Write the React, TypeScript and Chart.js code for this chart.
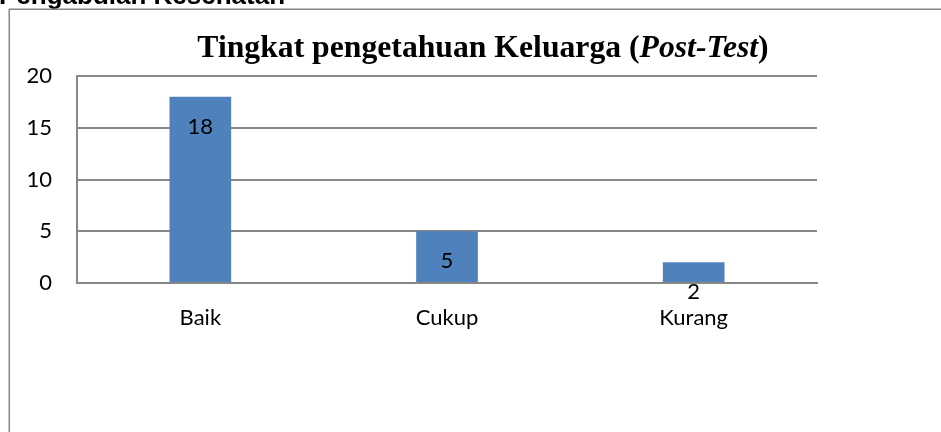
import React, { useEffect, useRef } from "react";
import { Chart, registerables } from "chart.js";

Chart.register(...registerables);

const categories = ["Baik", "Cukup", "Kurang"];
const values = [18, 5, 2];
const yTicks = [0, 5, 10, 15, 20];
const headerText = "Pengabdian Kesehatan";
const titleParts = [
  { text: "Tingkat pengetahuan Keluarga (", italic: false },
  { text: "Post-Test", italic: true },
  { text: ")", italic: false },
];

const FONT = "Lato";
const GRID = "#878787";

const decorPlugin = {
  id: "decor",
  afterDraw(chart: any) {
    const ctx = chart.ctx as CanvasRenderingContext2D;
    ctx.save();
    // header (cut at top)
    ctx.fillStyle = "#000";
    ctx.font = "bold 26px 'Liberation Sans', Arial, sans-serif";
    ctx.textBaseline = "alphabetic";
    ctx.textAlign = "left";
    ctx.fillText(headerText, -1, 4);
    // frame
    ctx.strokeStyle = GRID;
    ctx.lineWidth = 1.5;
    ctx.beginPath();
    ctx.moveTo(9.25, chart.height + 2);
    ctx.lineTo(9.25, 9.25);
    ctx.lineTo(chart.width + 2, 9.25);
    ctx.stroke();
    // title
    const size = 31.7;
    const fonts = titleParts.map(
      (p) => `${p.italic ? "italic " : ""}bold ${size}px 'Liberation Serif', 'Times New Roman', serif`
    );
    let total = 0;
    const widths = titleParts.map((p, i) => {
      ctx.font = fonts[i];
      const w = ctx.measureText(p.text).width;
      total += w;
      return w;
    });
    let x = 483 - total / 2;
    titleParts.forEach((p, i) => {
      ctx.font = fonts[i];
      ctx.fillText(p.text, x, 57);
      x += widths[i];
    });
    // data labels
    ctx.font = `22px ${FONT}`;
    ctx.textAlign = "center";
    ctx.textBaseline = "middle";
    const meta = chart.getDatasetMeta(0);
    meta.data.forEach((bar: any, i: number) => {
      ctx.fillText(String(values[i]), bar.x, bar.y + 30);
    });
    ctx.restore();
  },
};

export default function App() {
  const ref = useRef<HTMLCanvasElement>(null);
  useEffect(() => {
    if (!ref.current) return;
    const chart = new Chart(ref.current, {
      type: "bar",
      data: {
        labels: categories,
        datasets: [
          {
            data: values,
            backgroundColor: "#4F81BD",
            categoryPercentage: 1,
            barPercentage: 0.25,
          },
        ],
      },
      options: {
        animation: false,
        responsive: false,
        layout: { padding: { left: 0, top: 76, right: 124, bottom: 0 } },
        plugins: { legend: { display: false }, tooltip: { enabled: false }, title: { display: false } },
        scales: {
          x: {
            grid: { display: false, drawTicks: false },
            border: { display: true, color: GRID, width: 2 },
            ticks: { color: "#000", font: { family: FONT, size: 22 }, padding: 22, maxRotation: 0 },
            afterFit: (s: any) => {
              s.height = 432 - 283;
            },
          },
          y: {
            min: 0,
            max: 20,
            afterBuildTicks: (s: any) => {
              s.ticks = yTicks.map((v) => ({ value: v }));
            },
            grid: { color: GRID, lineWidth: 2, drawTicks: false },
            border: { display: true, color: GRID, width: 2 },
            ticks: { color: "#000", font: { family: FONT, size: 22 }, padding: 25 },
            afterFit: (s: any) => {
              s.width = 77;
            },
          },
        },
      },
      plugins: [decorPlugin],
    });
    return () => chart.destroy();
  }, []);
  return (
    <canvas
      ref={ref}
      width={941}
      height={432}
      style={{ position: "fixed", left: 0, top: 0, width: 941, height: 432, background: "#fff" }}
    />
  );
}
